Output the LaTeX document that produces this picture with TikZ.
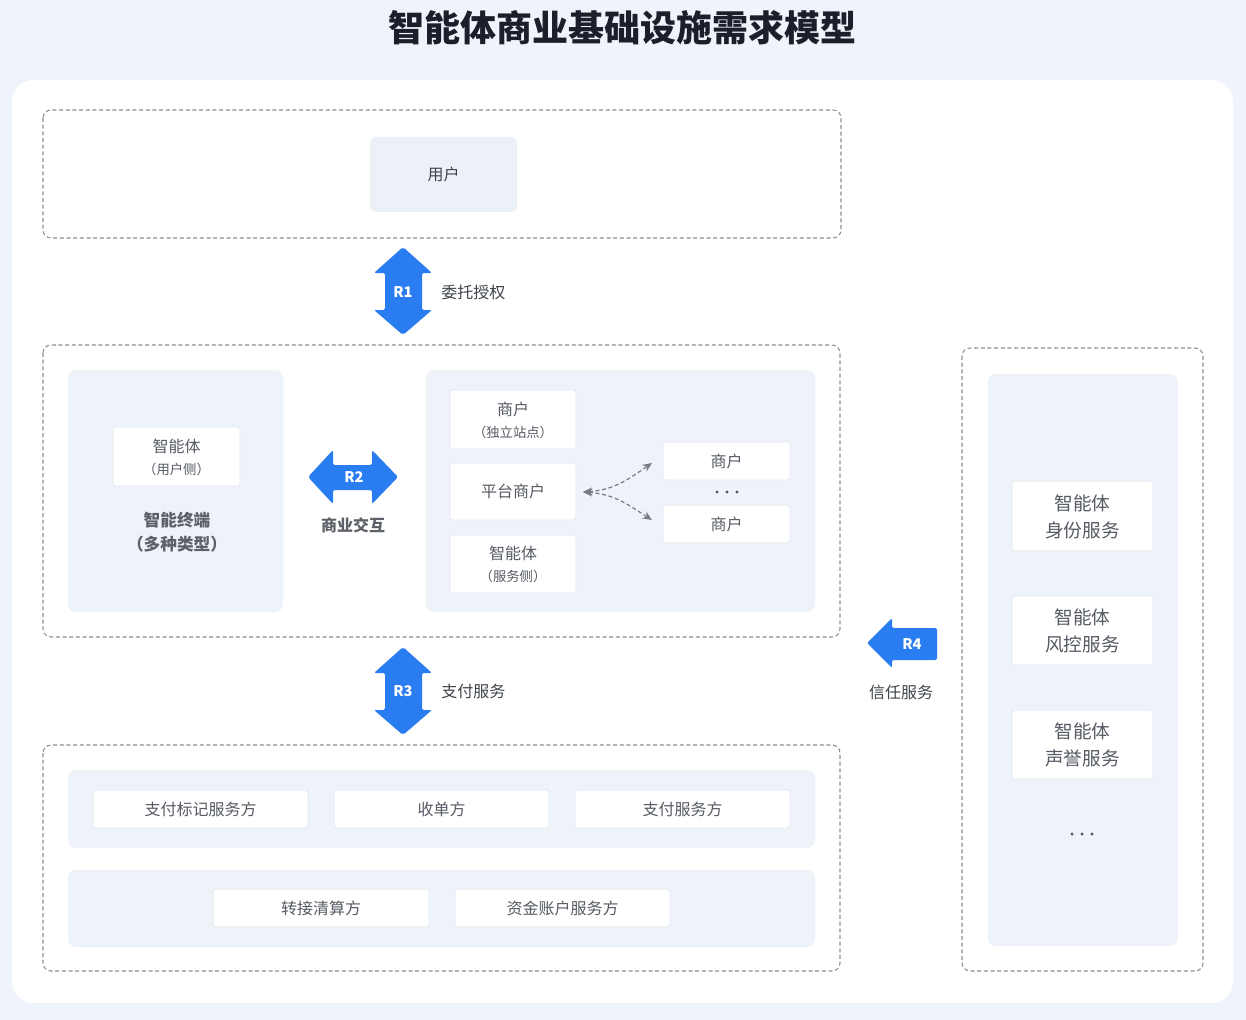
\documentclass[tikz,border=0pt]{standalone}
\usepackage{fontspec}
\setmainfont{Noto Sans CJK SC}
\usetikzlibrary{arrows.meta}
\definecolor{bgblue}{HTML}{EEF3FC}
\definecolor{panel}{HTML}{EEF3FA}
\definecolor{userbox}{HTML}{ECF1F8}
\definecolor{dashc}{HTML}{8A8F99}
\definecolor{txt}{HTML}{555A63}
\definecolor{txtdark}{HTML}{3F444C}
\definecolor{arrowblue}{HTML}{2A7DF0}
\definecolor{titlec}{HTML}{1C1F2A}
\definecolor{nodeedge}{HTML}{E2E7EF}
\tikzset{
  dashbox/.style={draw=dashc, dashed, dash pattern=on 3pt off 2pt, line width=0.8pt, rounded corners=6pt},
  panelbox/.style={fill=panel, draw=none, rounded corners=6pt},
  wbox/.style={fill=white, draw=nodeedge, line width=0.6pt, rounded corners=2pt},
  lbl/.style={text=txt, font=\fontsize{12}{14}\selectfont, align=center, inner sep=0pt},
  slbl/.style={text=txt, font=\fontsize{10}{12}\selectfont, align=center, inner sep=0pt},
  rlbl/.style={text=txt, font=\fontsize{14}{16}\selectfont, align=center, inner sep=0pt},
  blbl/.style={text=txtdark!85, font=\fontsize{12.5}{14}\selectfont\bfseries, align=center, inner sep=0pt},
  bigarrow/.style={fill=arrowblue, draw=none, rounded corners=1.5pt},
  rtag/.style={text=white, font=\fontsize{11}{12}\selectfont\bfseries, inner sep=0pt},
  flow/.style={draw=txt!80, dashed, dash pattern=on 3pt off 2pt, line width=0.9pt},
  dotc/.style={fill=txt, draw=none},
}
\begin{document}
\begin{tikzpicture}[x=0.75pt, y=-0.75pt]
\fill[bgblue] (0,0) rectangle (1246,1020);
\useasboundingbox (0,0) rectangle (1246,1020);
\fill[white, rounded corners=16pt] (12,80) rectangle (1233,1003);
\node[text=titlec, font=\fontsize{27}{30}\selectfont\bfseries, inner sep=0pt] (title) at (622,28) {智能体商业基础设施需求模型};

% dashed containers
\draw[dashbox] (43,110) rectangle (841,238);
\draw[dashbox] (43,345) rectangle (840,637);
\draw[dashbox] (43,745) rectangle (840,971);
\draw[dashbox] (962,348) rectangle (1203,971);

% user
\node[fill=userbox, rounded corners=4pt, minimum width=147*0.75pt, minimum height=75*0.75pt, inner sep=0pt] (user) at (443.5,174.5) {};
\node[lbl, text=txtdark] (userl) at (user) {用户};

% R1
\fill[bigarrow] (403,247) -- (432,273) -- (422,273) -- (422,310) -- (432,310) -- (403,335) -- (374,310) -- (385,310) -- (385,273) -- (374,273) -- cycle;
\node[rtag] (r1) at (403,292) {R1};
\node[lbl, anchor=west, text=txtdark] (r1l) at (441,292) {委托授权};

% middle left panel
\fill[panelbox] (68,370) rectangle (283,612);
\node[wbox, minimum width=127*0.75pt, minimum height=59*0.75pt] (agentu) at (176.5,456.5) {};
\node[lbl] (agentu1) at (176.5,446) {智能体};
\node[slbl] (agentu2) at (176.5,469) {（用户侧）};
\node[blbl] (term1) at (177,520) {智能终端};
\node[blbl] (term2) at (177,544) {（多种类型）};

% R2
\fill[bigarrow] (308,477) -- (333,450) -- (333,465) -- (372,465) -- (372,450) -- (398,477) -- (372,504) -- (372,490) -- (333,490) -- (333,504) -- cycle;
\node[rtag] (r2) at (354,477) {R2};
\node[blbl, font=\fontsize{12}{14}\selectfont\bfseries] (r2l) at (353,525) {商业交互};

% middle right panel
\fill[panelbox] (426,370) rectangle (815,612);
\node[wbox, minimum width=126*0.75pt, minimum height=59*0.75pt] (m1) at (513,419.5) {};
\node[lbl] (m1a) at (513,409) {商户};
\node[slbl] (m1b) at (513,432) {（独立站点）};
\node[wbox, minimum width=126*0.75pt, minimum height=57*0.75pt] (plat) at (513,491.5) {};
\node[lbl] (platl) at (plat) {平台商户};
\node[wbox, minimum width=126*0.75pt, minimum height=58*0.75pt] (as) at (513,564) {};
\node[lbl] (as1) at (513,553) {智能体};
\node[slbl] (as2) at (513,576) {（服务侧）};
\node[wbox, minimum width=127*0.75pt, minimum height=38*0.75pt] (mt) at (726.5,461) {};
\node[lbl] (mtl) at (mt) {商户};
\fill[dotc] (717,492) circle (1.3pt) (727,492) circle (1.3pt) (737,492) circle (1.3pt);
\node[wbox, minimum width=127*0.75pt, minimum height=38*0.75pt] (mb) at (726.5,524) {};
\node[lbl] (mbl) at (mb) {商户};
\coordinate (hub) at (583,492);
\coordinate (t1) at (652,463);
\coordinate (t2) at (652,520);
\draw[flow, {Stealth[length=7pt,width=6pt]}-{Stealth[length=7pt,width=6pt]}] (hub) .. controls (615,490) and (630,478) .. (t1);
\draw[flow, {Stealth[length=7pt,width=6pt]}-{Stealth[length=7pt,width=6pt]}] (hub) .. controls (615,494) and (630,506) .. (t2);

% R3
\fill[bigarrow] (403,647) -- (432,673) -- (422,673) -- (422,710) -- (432,710) -- (403,735) -- (374,710) -- (385,710) -- (385,673) -- (374,673) -- cycle;
\node[rtag] (r3) at (403,691) {R3};
\node[lbl, anchor=west, text=txtdark] (r3l) at (441,691) {支付服务};

% R4
\fill[bigarrow] (867,643) -- (892,618) -- (892,628) -- (937,628) -- (937,660) -- (892,660) -- (892,668) -- cycle;
\node[rtag] (r4) at (912,644) {R4};
\node[lbl, text=txtdark] (r4l) at (901,692) {信任服务};

% bottom
\fill[panelbox] (68,770) rectangle (815,848);
\fill[panelbox] (68,870) rectangle (815,947);
\node[wbox, minimum width=215*0.75pt, minimum height=38*0.75pt] (p1) at (200.5,809) {};
\node[lbl] at (p1) {支付标记服务方};
\node[wbox, minimum width=215*0.75pt, minimum height=38*0.75pt] (p2) at (441.5,809) {};
\node[lbl] at (p2) {收单方};
\node[wbox, minimum width=215*0.75pt, minimum height=38*0.75pt] (p3) at (682.5,809) {};
\node[lbl] at (p3) {支付服务方};
\node[wbox, minimum width=216*0.75pt, minimum height=38*0.75pt] (p4) at (321,908) {};
\node[lbl] at (p4) {转接清算方};
\node[wbox, minimum width=215*0.75pt, minimum height=38*0.75pt] (p5) at (562.5,908) {};
\node[lbl] at (p5) {资金账户服务方};

% right
\fill[panelbox] (988,374) rectangle (1178,946);
\node[wbox, minimum width=141*0.75pt, minimum height=70*0.75pt] (s1) at (1082.5,516) {};
\node[rlbl] at (1082.5,503) {智能体};
\node[rlbl] at (1082.5,530) {身份服务};
\node[wbox, minimum width=141*0.75pt, minimum height=69*0.75pt] (s2) at (1082.5,630.5) {};
\node[rlbl] at (1082.5,617) {智能体};
\node[rlbl] at (1082.5,644) {风控服务};
\node[wbox, minimum width=141*0.75pt, minimum height=69*0.75pt] (s3) at (1082.5,744.5) {};
\node[rlbl] at (1082.5,731) {智能体};
\node[rlbl] at (1082.5,758) {声誉服务};
\fill[dotc] (1072,834) circle (1.3pt) (1082,834) circle (1.3pt) (1092,834) circle (1.3pt);
\end{tikzpicture}
\end{document}
